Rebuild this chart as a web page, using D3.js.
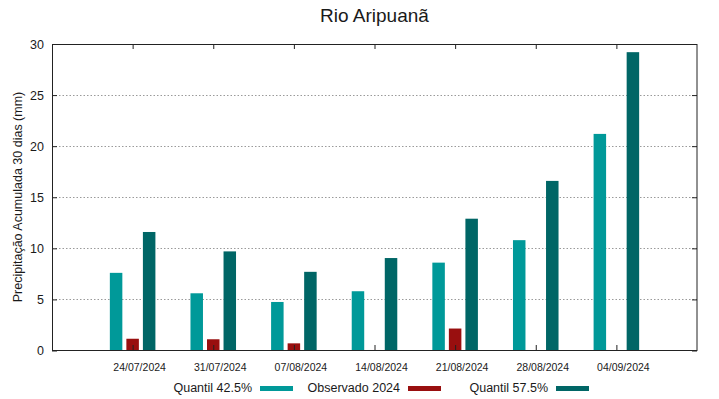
<!DOCTYPE html>
<html>
<head>
<meta charset="utf-8">
<script src="https://cdn.jsdelivr.net/npm/d3@7"></script>
<style>
  body { margin: 0; background: #fff; }
  text { font-family: "Liberation Sans", Arial, sans-serif; fill: #1a1a1a; }
  .grid line { stroke: #9a9a9a; stroke-dasharray: 1.5 2; }
</style>
</head>
<body>
<div id="chart-area"></div>
<script>
// values
let dates = ["24/07/2024", "31/07/2024", "07/08/2024", "14/08/2024", "21/08/2024", "28/08/2024", "04/09/2024"];
let q425 = [7.6, 5.6, 4.75, 5.8, 8.6, 10.8, 21.2];
let obs = [1.15, 1.1, 0.7, 0.05, 2.15, null, null];
let q575 = [11.6, 9.7, 7.7, 9.05, 12.9, 16.6, 29.2];
let yTicks = [0, 5, 10, 15, 20, 25, 30];

let seriesNames = ["Quantil 42.5%", "Observado 2024", "Quantil 57.5%"];
let seriesColors = ["#009999", "#990f0f", "#006666"];

let margin = {top: 44, right: 22, bottom: 49, left: 52};
let W = 719, H = 399;
let width = W - margin.left - margin.right;
let height = H - margin.top - margin.bottom;

let svg = d3.select("#chart-area").append("svg")
    .attr("width", W)
    .attr("height", H)
  .append("g")
    .attr("transform", "translate(" + margin.left + "," + margin.top + ")");

// categories sit on integer positions, one slot padding each side
let x = d3.scaleLinear().domain([-1, dates.length]).range([0, width]);
let y = d3.scaleLinear().domain([0, 30]).range([height + 0.5, 0]);

// grid
svg.append("g").attr("class", "grid")
  .selectAll("line")
  .data(yTicks.filter(d => d > 0 && d < 30))
  .enter().append("line")
    .attr("x1", 0).attr("x2", width)
    .attr("y1", d => Math.round(y(d)) + 0.5)
    .attr("y2", d => Math.round(y(d)) + 0.5);

// bars
let offsets = [-0.205, 0, 0.205];
let barW = 0.155;
let series = [q425, obs, q575];

series.forEach((vals, s) => {
  let rows = vals.map((v, i) => ({i: i, v: v})).filter(d => d.v !== null);
  svg.append("g").selectAll("rect")
    .data(rows)
    .enter().append("rect")
      .attr("x", d => x(d.i + offsets[s] - barW / 2))
      .attr("width", x(barW) - x(0))
      .attr("y", d => y(d.v))
      .attr("height", d => y(0) - y(d.v))
      .attr("fill", seriesColors[s]);
});

// axes: ticks point inward like gnuplot
let catIdx = dates.map((d, i) => i);

let yAxis = d3.axisLeft(y).tickValues(yTicks).tickSize(-5).tickPadding(8);
let yAxisG = svg.append("g").attr("class", "axis").call(yAxis);
yAxisG.selectAll("text").style("font-size", "12.5px");

let yAxisR = d3.axisRight(y).tickValues(yTicks).tickSize(-5).tickFormat("");
svg.append("g").attr("transform", "translate(" + width + ",0)").call(yAxisR);

let xAxis = d3.axisBottom(x).tickValues(catIdx).tickSize(-5).tickFormat(i => dates[i]);
let xAxisG = svg.append("g").attr("transform", "translate(0," + height + ")").call(xAxis);
xAxisG.selectAll("text")
    .attr("y", 21).attr("dy", 0).attr("dx", 6.5)
    .style("font-size", "10.5px");

let xAxisT = d3.axisTop(x).tickValues(catIdx).tickSize(-5).tickFormat("");
svg.append("g").call(xAxisT);

svg.selectAll(".domain").remove();
svg.selectAll(".tick line").attr("stroke", "#222");

// frame
svg.append("rect")
    .attr("x", 0.5).attr("y", 0.5)
    .attr("width", width - 0.5).attr("height", height)
    .attr("fill", "none")
    .attr("stroke", "#222");

// title
svg.append("text")
    .attr("x", width / 2)
    .attr("y", 22 - margin.top)
    .attr("text-anchor", "middle")
    .style("font-size", "19px")
    .text("Rio Aripuanã");

// y label
svg.append("text")
    .attr("transform", "rotate(-90)")
    .attr("x", -(197 - margin.top))
    .attr("y", 21.5 - margin.left)
    .attr("text-anchor", "middle")
    .style("font-size", "12.5px")
    .text("Precipitação Acumulada 30 dias (mm)");

// legend
let legend = svg.append("g").attr("transform", "translate(" + (-margin.left) + "," + (-margin.top) + ")");
seriesNames.forEach((name, s) => {
  legend.append("text")
      .attr("x", 252 + s * 148)
      .attr("y", 392)
      .attr("text-anchor", "end")
      .style("font-size", "12.5px")
      .text(name);
  legend.append("rect")
      .attr("x", 260 + s * 148)
      .attr("y", 386)
      .attr("width", 33)
      .attr("height", 5)
      .attr("fill", seriesColors[s]);
});
</script>
</body>
</html>
